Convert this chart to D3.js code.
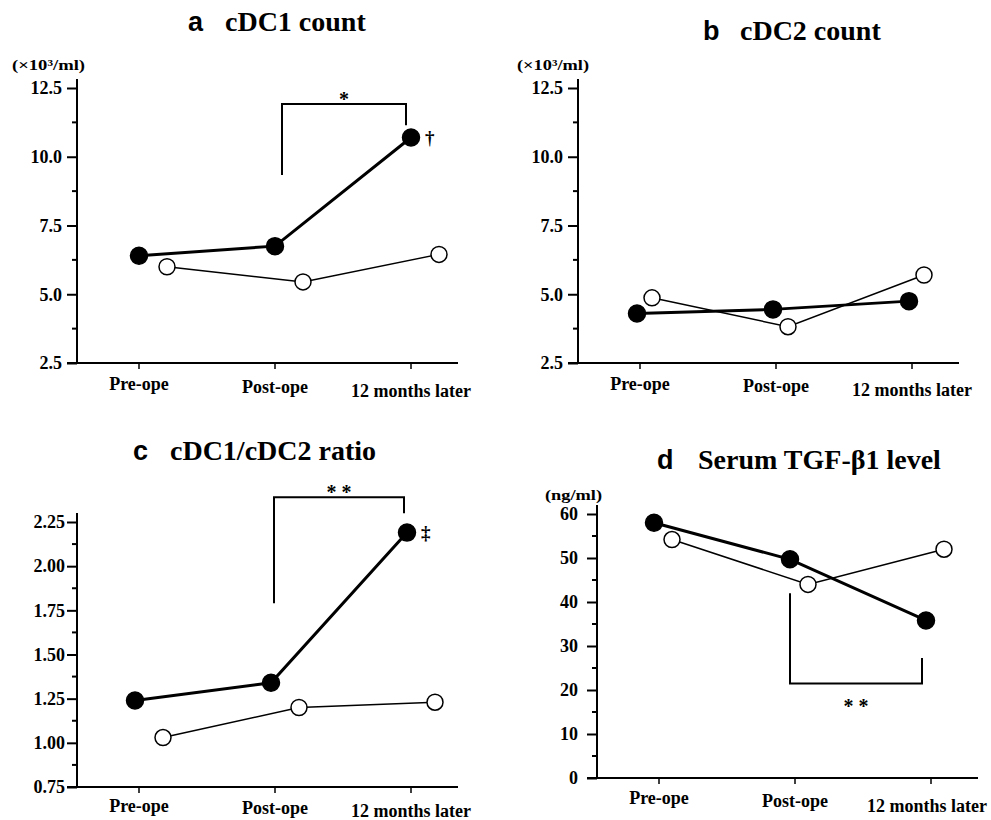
<!DOCTYPE html>
<html>
<head>
<meta charset="utf-8">
<script src="https://cdn.jsdelivr.net/npm/d3@7"></script>
<style>
  html, body { margin: 0; padding: 0; background: #fff; }
  svg { display: block; }
</style>
</head>
<body>
<svg id="chart" width="991" height="820"></svg>
<script>
// ---------------- data ----------------
const categories = ["Pre-ope", "Post-ope", "12 months later"];

const cdc1Filled = [6.4, 6.75, 10.7];
const cdc1Open   = [6.0, 5.45, 6.45];

const cdc2Filled = [4.3, 4.45, 4.75];
const cdc2Open   = [4.87, 3.82, 5.7];

const ratioFilled = [1.24, 1.34, 2.19];
const ratioOpen   = [1.03, 1.2, 1.23];

const tgfFilled = [58, 49.7, 35.8];
const tgfOpen   = [54.2, 44, 52];

const countTicks = [2.5, 5.0, 7.5, 10.0, 12.5];
const ratioTicks = [0.75, 1.00, 1.25, 1.50, 1.75, 2.00, 2.25];
const tgfTicks   = [0, 10, 20, 30, 40, 50, 60];

const countUnit = "(\u00d710\u00b3/ml)";
const tgfUnit = "(ng/ml)";

// ---------------- layout (styling only) ----------------
const SERIF = "'Liberation Serif', 'Times New Roman', Tinos, 'DejaVu Serif', serif";
const SANS = "'Liberation Sans', Arial, Arimo, 'DejaVu Sans', sans-serif";
const W = 991;

const panels = [
  { letter: "a", title: "cDC1 count", filled: cdc1Filled, open: cdc1Open, ticks: countTicks, fmt: ".1f",
    axisX: 77, yRange: [363, 88], unit: countUnit, unitX: 12, unitY: 70, unitW: 73,
    letterX: 188, titleX: 225, titleY: 31, fOff: 0, oOff: 28, tickPad: 5, labelDy: [27, 30, 34],
    bracket: { from: 1, to: 2, top: 11.92, left: 9.34, right: 11.15, nudge: [7, -5], star: "*", starDy: -6 },
    mark: { sym: "\u2020", i: 2 } },
  { letter: "b", title: "cDC2 count", filled: cdc2Filled, open: cdc2Open, ticks: countTicks, fmt: ".1f",
    axisX: 578, yRange: [363, 88], unit: countUnit, unitX: 517, unitY: 70, unitW: 72,
    letterX: 703, titleX: 740, titleY: 40, fOff: -3, oOff: 12, tickPad: 5, labelDy: [27, 29, 33] },
  { letter: "c", title: "cDC1/cDC2 ratio", filled: ratioFilled, open: ratioOpen, ticks: ratioTicks, fmt: ".2f",
    axisX: 77, yRange: [787, 522], unit: null,
    letterX: 133, titleX: 170, titleY: 460, fOff: -4, oOff: 24, tickPad: 2, labelDy: [25, 27, 30],
    bracket: { from: 1, to: 2, top: 2.39, left: 1.79, right: 2.30, nudge: [-1, -7], star: "* *", starDy: -6 },
    mark: { sym: "\u2021", i: 2 } },
  { letter: "d", title: "Serum TGF-\u03b21 level", filled: tgfFilled, open: tgfOpen, ticks: tgfTicks, fmt: "d",
    axisX: 597, yRange: [778, 514], unit: tgfUnit, unitX: 545, unitY: 500, unitW: 57,
    letterX: 657, titleX: 698, titleY: 469, fOff: -5, oOff: 13, tickPad: 9, labelDy: [26, 29, 34],
    bracket: { from: 1, to: 2, top: 21.5, left: 42, right: 27.3, nudge: [-5, -9], star: "* *", starDy: 22 } }
];

const svg = d3.select("#chart");

panels.forEach(p => {
  const g = svg.append("g");
  const tickVals = p.ticks;
  const y = d3.scaleLinear().domain([tickVals[0], tickVals[tickVals.length - 1]]).range(p.yRange);
  const x = d3.scalePoint().domain(categories).range([p.axisX + 62, p.axisX + 334]);
  const baseY = p.yRange[0];
  const topY = p.yRange[1];

  // x axis line
  g.append("line").attr("x1", p.axisX - 10).attr("x2", p.axisX + 381)
    .attr("y1", baseY).attr("y2", baseY).attr("stroke", "#000").attr("stroke-width", 2);
  // y axis line
  g.append("line").attr("x1", p.axisX).attr("x2", p.axisX)
    .attr("y1", topY - 9).attr("y2", baseY).attr("stroke", "#000").attr("stroke-width", 2);

  // y major ticks via d3 axis
  const yAxis = d3.axisLeft(y).tickValues(tickVals).tickFormat(d3.format(p.fmt))
    .tickSize(10).tickPadding(p.tickPad);
  const ya = g.append("g").attr("transform", `translate(${p.axisX},0)`).call(yAxis)
    .attr("font-family", SERIF).attr("font-size", 18);
  ya.select(".domain").remove();
  ya.selectAll(".tick line").attr("stroke", "#000").attr("stroke-width", 2);
  ya.selectAll(".tick text").style("font-family", SERIF).style("font-weight", "bold")
    .style("font-size", "18px").attr("fill", "#000");

  // minor ticks (midpoints)
  const minor = d3.pairs(tickVals).map(([a, b]) => (a + b) / 2);
  g.selectAll(".minor").data(minor).join("line")
    .attr("x1", p.axisX - 5).attr("x2", p.axisX)
    .attr("y1", d => y(d)).attr("y2", d => y(d))
    .attr("stroke", "#000").attr("stroke-width", 2);

  // x ticks
  g.selectAll(".xt").data(categories).join("line")
    .attr("x1", d => x(d)).attr("x2", d => x(d))
    .attr("y1", baseY).attr("y2", baseY + 6)
    .attr("stroke", "#000").attr("stroke-width", 1.5);
  g.selectAll(".xl").data(categories).join("text")
    .style("font-family", SERIF).style("font-weight", "bold").style("font-size", "18px")
    .attr("x", d => x(d)).attr("y", (d, i) => baseY + p.labelDy[i])
    .attr("text-anchor", "middle").text(d => d)
    .each(function(d) {
      const w = this.getComputedTextLength();
      const cx = Math.min(x(d), W - 4 - w / 2);
      d3.select(this).attr("x", cx);
    });

  // units
  if (p.unit) {
    g.append("text").style("font-family", SERIF).style("font-weight", "bold").style("font-size", "15px")
      .attr("x", p.unitX).attr("y", p.unitY)
      .attr("textLength", p.unitW).attr("lengthAdjust", "spacingAndGlyphs").text(p.unit);
  }

  // titles
  g.append("text").style("font-family", SANS).style("font-weight", "bold").style("font-size", "27px")
    .attr("x", p.letterX).attr("y", p.titleY).text(p.letter);
  g.append("text").style("font-family", SERIF).style("font-weight", "bold").style("font-size", "28px")
    .attr("x", p.titleX).attr("y", p.titleY).text(p.title);

  // bracket
  if (p.bracket) {
    const b = p.bracket;
    const x1 = x(categories[b.from]) + b.nudge[0];
    const x2 = x(categories[b.to]) + b.nudge[1];
    const path = d3.path();
    path.moveTo(x1, y(b.left));
    path.lineTo(x1, y(b.top));
    path.lineTo(x2, y(b.top));
    path.lineTo(x2, y(b.right));
    g.append("path").attr("d", path.toString()).attr("fill", "none")
      .attr("stroke", "#000").attr("stroke-width", 2);
    g.append("text").style("font-family", SERIF).style("font-weight", "bold").style("font-size", "20px")
      .attr("x", (x1 + x2) / 2).attr("y", y(b.top) + b.starDy + 8)
      .attr("text-anchor", "middle").text(b.star);
  }

  const series = [
    { vals: p.open, off: p.oOff, fill: "#fff", lw: 1.5, r: 8 },
    { vals: p.filled, off: p.fOff, fill: "#000", lw: 3, r: 8.5 }
  ];
  const line = d3.line().x(d => d[0]).y(d => d[1]);
  series.forEach(s => {
    const pts = s.vals.map((v, i) => [x(categories[i]) + s.off, y(v)]);
    g.append("path").attr("d", line(pts)).attr("fill", "none")
      .attr("stroke", "#000").attr("stroke-width", s.lw);
  });
  series.forEach(s => {
    const pts = s.vals.map((v, i) => [x(categories[i]) + s.off, y(v)]);
    g.selectAll(null).data(pts).join("circle")
      .attr("cx", d => d[0]).attr("cy", d => d[1]).attr("r", s.r)
      .attr("fill", s.fill).attr("stroke", "#000").attr("stroke-width", 1.5);
  });

  if (p.mark) {
    const m = p.mark;
    g.append("text").style("font-family", SERIF).style("font-weight", "bold").style("font-size", "19px")
      .attr("x", x(categories[m.i]) + p.fOff + 14).attr("y", y(p.filled[m.i]) + 6)
      .text(m.sym);
  }
});
</script>
</body>
</html>
